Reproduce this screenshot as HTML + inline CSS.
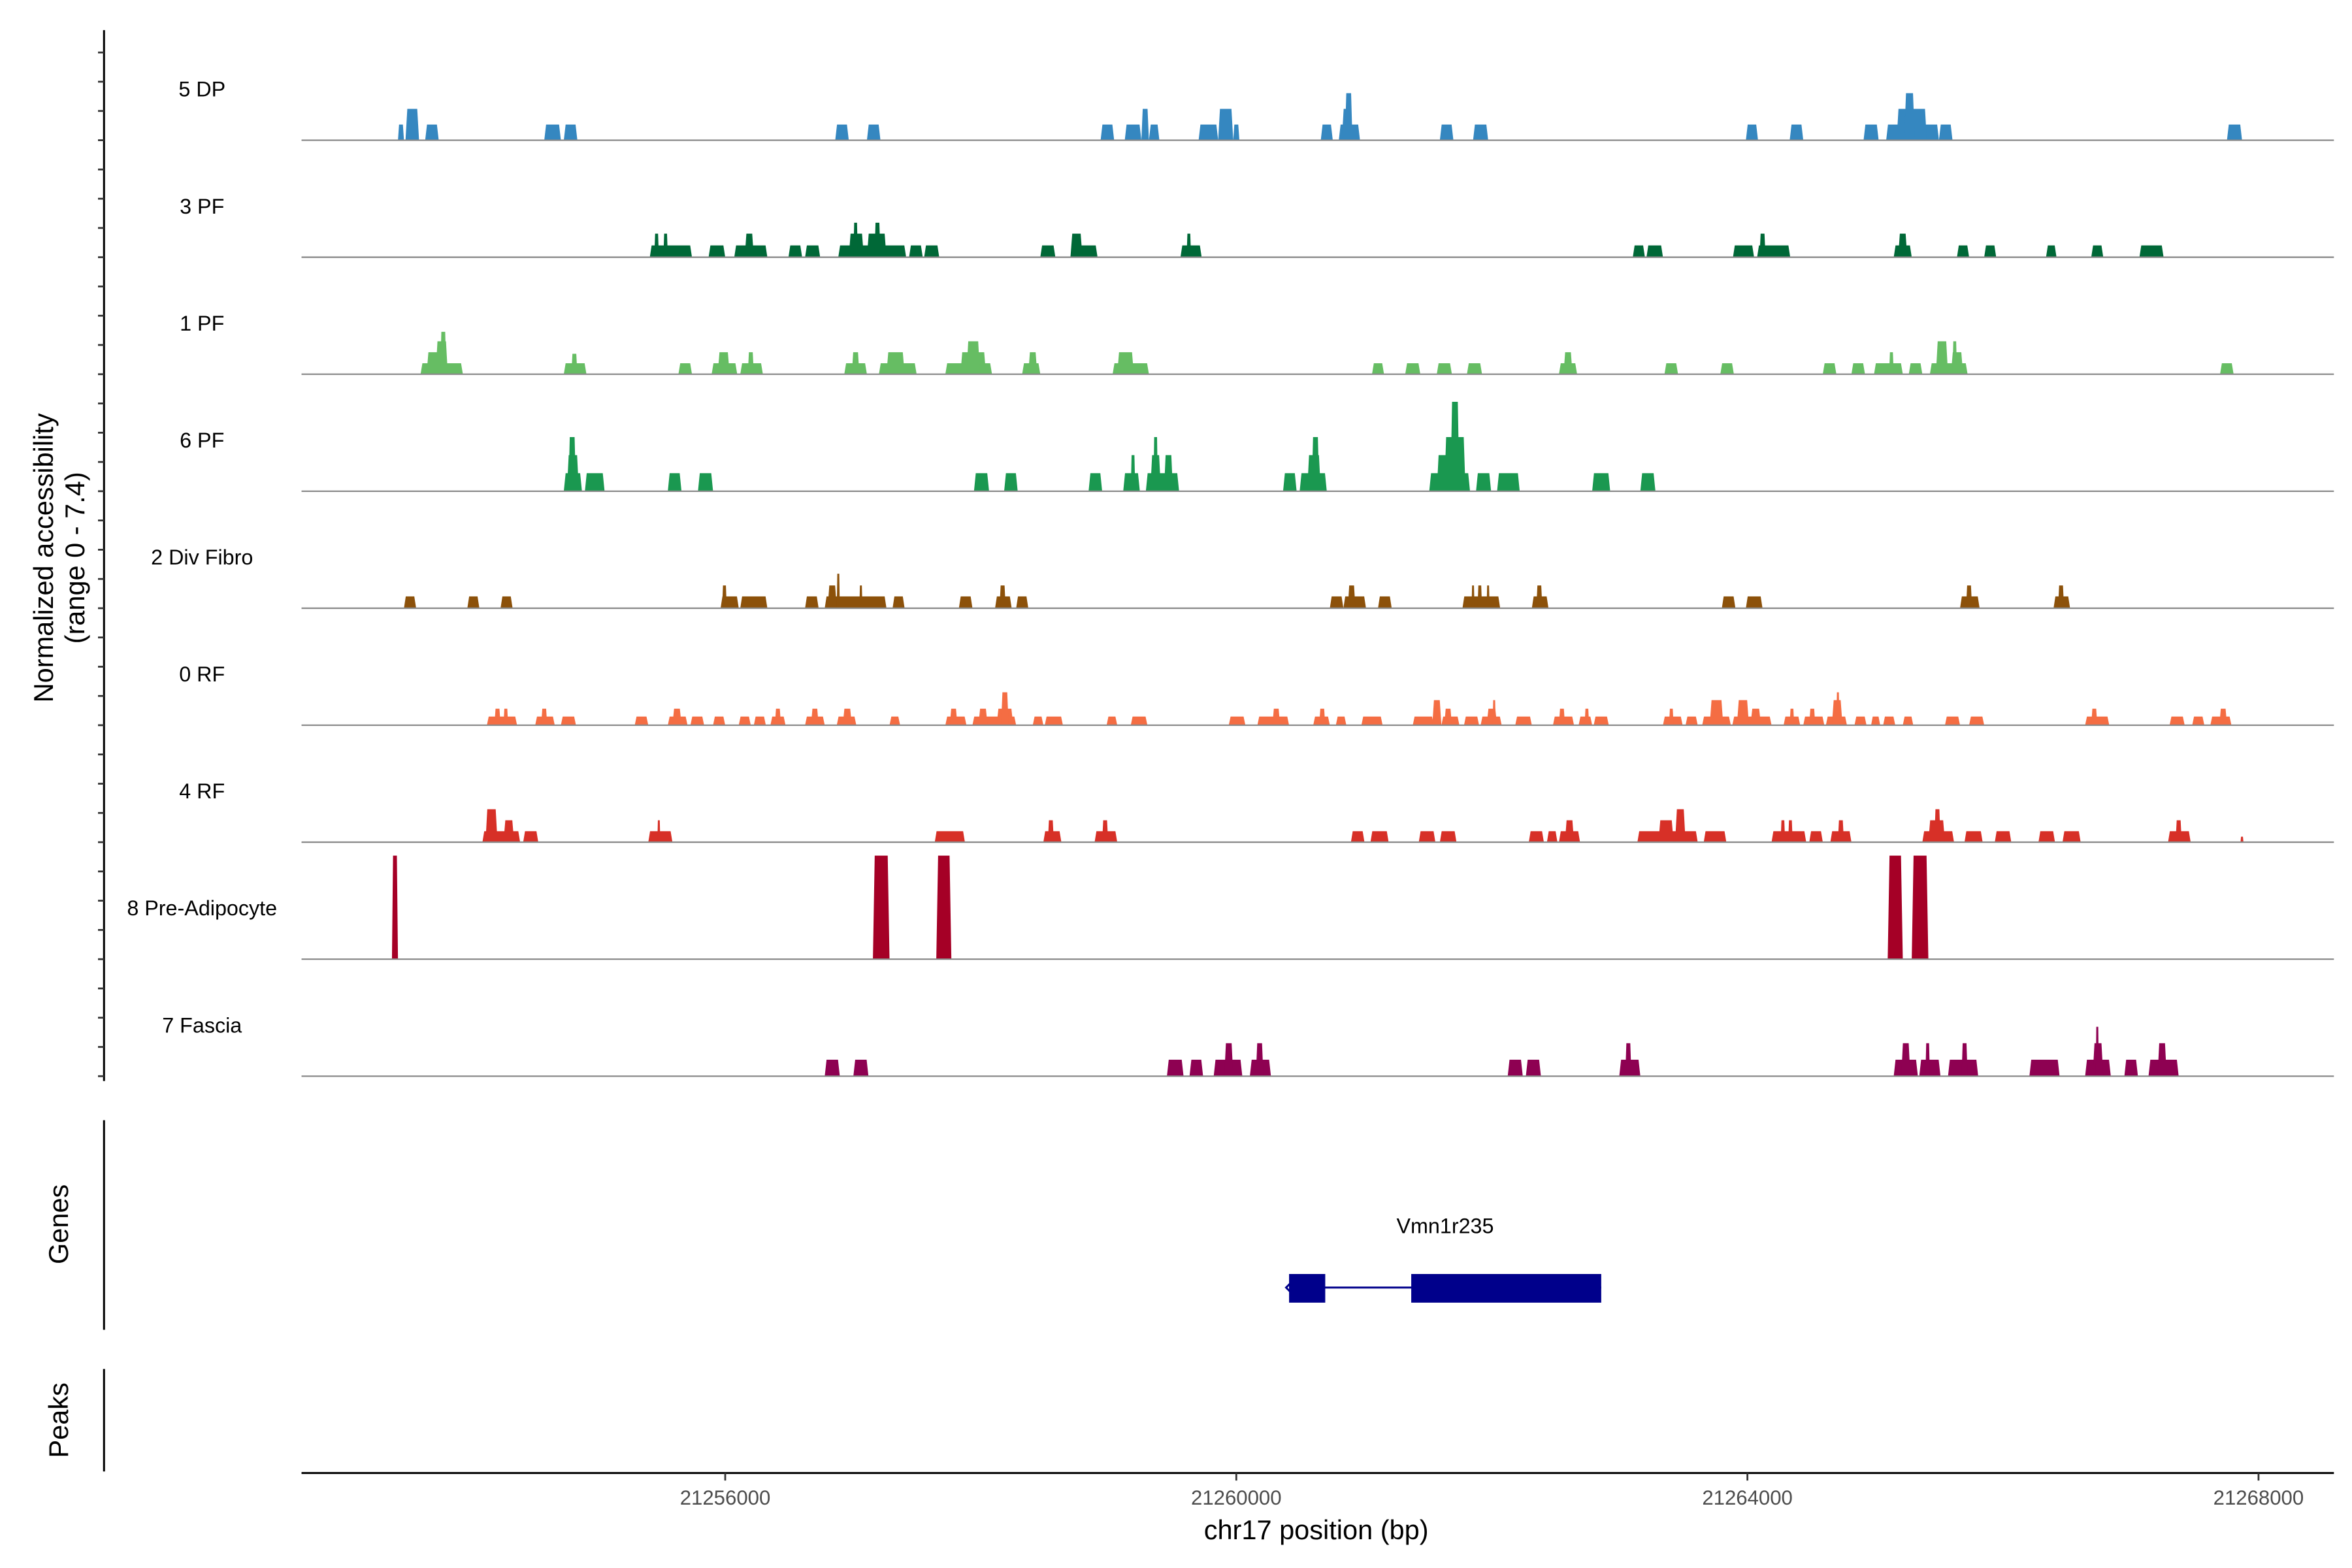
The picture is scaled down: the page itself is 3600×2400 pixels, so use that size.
<!DOCTYPE html>
<html><head><meta charset="utf-8"><style>
html,body{margin:0;padding:0;background:#fff;}
svg{display:block;}
text{font-family:"Liberation Sans",Arial,sans-serif;}
</style></head><body>
<svg id="chart" xmlns="http://www.w3.org/2000/svg" width="3600" height="2400" viewBox="0 0 1560 1040">
<g id="tracks"></g>
<g id="yaxis"></g>
<text transform="translate(35,370) rotate(-90)" text-anchor="middle" font-size="18" fill="#000">Normalized accessibility</text>
<text transform="translate(56,370) rotate(-90)" text-anchor="middle" font-size="18" fill="#000">(range 0 - 7.4)</text>
<line x1="69" y1="743" x2="69" y2="882" stroke="#000" stroke-width="1.3"/>
<text transform="translate(45,812) rotate(-90)" text-anchor="middle" font-size="18" fill="#000">Genes</text>
<line x1="69" y1="908" x2="69" y2="976" stroke="#000" stroke-width="1.3"/>
<text transform="translate(45,942) rotate(-90)" text-anchor="middle" font-size="18" fill="#000">Peaks</text>
<g id="gene"></g>
<g id="xaxis"></g>
<text x="873" y="1021" text-anchor="middle" font-size="18" fill="#000">chr17 position (bp)</text>
</svg>
<script>
// positions in kb relative to chr17:21,250,000 ; heights in normalized accessibility
const trackNames = ["5 DP","3 PF","1 PF","6 PF","2 Div Fibro","0 RF","4 RF","8 Pre-Adipocyte","7 Fascia"];
const trackColors = ["#3587c0","#006837","#66bd63","#1a9850","#8c510a","#f46d43","#d73027","#a50026","#8e0152"];
const peaks5DP = [[3.439,3.486,1],[3.498,3.604,2],[3.652,3.758,1],[4.584,4.714,1],[4.737,4.843,1],[6.861,6.967,1],[7.109,7.215,1],[8.938,9.044,1],[9.127,9.257,1],[9.257,9.316,2],[9.316,9.398,1],[9.705,9.858,1],[9.858,9.976,2],[9.976,10.024,1],[10.661,10.755,1],[10.802,10.968,1],[10.826,10.909,2],[10.85,10.909,3],[11.593,11.699,1],[11.853,11.971,1],[13.988,14.083,1],[14.331,14.437,1],[14.909,15.027,1],[15.086,15.499,1],[15.168,15.404,2],[15.227,15.31,3],[15.499,15.605,1],[17.753,17.871,1]];
const peaks3PF = [[5.41,5.74,0.75],[5.445,5.481,1.5],[5.516,5.551,1.5],[5.87,6.0,0.75],[6.071,6.33,0.75],[6.153,6.224,1.5],[6.495,6.602,0.75],[6.625,6.743,0.75],[6.885,7.416,0.75],[6.967,7.085,1.5],[7.109,7.262,1.5],[7.003,7.038,2.2],[7.168,7.215,2.2],[7.439,7.546,0.75],[7.557,7.675,0.75],[8.466,8.584,0.75],[8.702,8.914,0.75],[8.702,8.796,1.5],[9.563,9.729,0.75],[9.611,9.646,1.5],[13.103,13.198,0.75],[13.21,13.339,0.75],[13.887,14.052,0.75],[14.076,14.335,0.75],[14.095,14.142,1.5],[15.145,15.286,0.75],[15.18,15.251,1.5],[15.64,15.735,0.75],[15.853,15.947,0.75],[16.337,16.419,0.75],[16.691,16.785,0.75],[17.068,17.257,0.75]];
const peaks1PF = [[3.616,3.947,0.7],[3.663,3.829,1.4],[3.734,3.829,2.1],[3.77,3.817,2.7],[4.737,4.914,0.7],[4.796,4.843,1.3],[5.634,5.74,0.7],[5.894,6.094,0.7],[5.941,6.035,1.4],[6.118,6.295,0.7],[6.177,6.224,1.4],[6.932,7.109,0.7],[6.991,7.05,1.4],[7.203,7.498,0.7],[7.262,7.404,1.4],[7.723,8.088,0.7],[7.841,8.041,1.4],[7.888,7.994,2.1],[8.324,8.466,0.7],[8.372,8.442,1.4],[9.032,9.316,0.7],[9.068,9.198,1.4],[11.062,11.156,0.7],[11.322,11.44,0.7],[11.569,11.687,0.7],[11.805,11.923,0.7],[12.525,12.667,0.7],[12.561,12.631,1.4],[13.351,13.457,0.7],[13.788,13.894,0.7],[14.59,14.696,0.7],[14.814,14.92,0.7],[14.991,15.216,0.7],[15.109,15.145,1.4],[15.263,15.369,0.7],[15.428,15.723,0.7],[15.475,15.57,2.1],[15.593,15.688,1.4],[15.605,15.64,2.1],[17.699,17.805,0.7]];
const peaks6PF = [[4.737,4.879,1.15],[4.761,4.855,2.3],[4.773,4.832,3.45],[4.902,5.056,1.15],[5.551,5.658,1.15],[5.787,5.905,1.15],[7.947,8.065,1.15],[8.183,8.289,1.15],[8.844,8.95,1.15],[9.115,9.245,1.15],[9.174,9.209,2.3],[9.292,9.552,1.15],[9.327,9.41,2.3],[9.351,9.386,3.45],[9.434,9.504,2.3],[10.366,10.472,1.15],[10.496,10.708,1.15],[10.555,10.661,2.3],[10.59,10.649,3.45],[11.51,11.829,1.15],[11.569,11.794,2.3],[11.628,11.794,3.45],[11.676,11.746,5.7],[11.876,11.994,1.15],[12.041,12.218,1.15],[12.785,12.926,1.15],[13.162,13.28,1.15]];
const peaks2DF = [[3.486,3.581,0.75],[3.982,4.076,0.75],[4.242,4.336,0.75],[5.964,6.106,0.75],[5.976,6.012,1.45],[6.118,6.33,0.75],[6.625,6.731,0.75],[6.779,7.262,0.75],[6.802,6.873,1.45],[6.873,6.897,2.2],[7.05,7.074,1.45],[7.31,7.404,0.75],[7.829,7.935,0.75],[8.112,8.242,0.75],[8.147,8.195,1.45],[8.277,8.372,0.75],[10.732,10.838,0.75],[10.838,11.015,0.75],[10.873,10.932,1.45],[11.109,11.216,0.75],[11.77,12.065,0.75],[11.841,11.864,1.45],[11.888,11.923,1.45],[11.959,11.982,1.45],[12.313,12.443,0.75],[12.348,12.395,1.45],[13.8,13.906,0.75],[13.988,14.118,0.75],[15.664,15.817,0.75],[15.711,15.758,1.45],[16.396,16.525,0.75],[16.431,16.478,1.45]];
const peaks0RF = [[4.135,4.371,0.55],[4.194,4.242,1.05],[4.265,4.301,1.05],[4.513,4.666,0.55],[4.56,4.607,1.05],[4.714,4.832,0.55],[5.292,5.398,0.55],[5.551,5.705,0.55],[5.587,5.658,1.05],[5.728,5.835,0.55],[5.905,6.0,0.55],[6.106,6.2,0.55],[6.224,6.318,0.55],[6.354,6.472,0.55],[6.389,6.436,1.05],[6.625,6.779,0.55],[6.672,6.731,1.05],[6.873,7.026,0.55],[6.92,6.991,1.05],[7.286,7.369,0.55],[7.723,7.888,0.55],[7.758,7.817,1.05],[7.935,8.277,0.55],[7.982,8.053,1.05],[8.124,8.254,1.05],[8.159,8.218,2.1],[8.407,8.49,0.55],[8.501,8.643,0.55],[8.985,9.068,0.55],[9.174,9.304,0.55],[9.941,10.071,0.55],[10.165,10.413,0.55],[10.283,10.342,1.05],[10.602,10.732,0.55],[10.649,10.696,1.05],[10.779,10.861,0.55],[10.979,11.145,0.55],[11.381,11.546,0.55],[11.534,11.605,1.6],[11.605,11.746,0.55],[11.628,11.687,1.05],[11.782,11.9,0.55],[11.912,12.077,0.55],[11.959,12.041,1.05],[12.006,12.03,1.6],[12.183,12.313,0.55],[12.478,12.643,0.55],[12.525,12.572,1.05],[12.679,12.785,0.55],[12.726,12.761,1.05],[12.797,12.915,0.55],[13.339,13.493,0.55],[13.387,13.422,1.05],[13.516,13.611,0.55],[13.646,13.87,0.55],[13.705,13.811,1.6],[13.882,14.189,0.55],[13.918,14.012,1.6],[14.024,14.106,1.05],[14.283,14.413,0.55],[14.331,14.366,1.05],[14.437,14.602,0.55],[14.484,14.531,1.05],[14.614,14.779,0.55],[14.661,14.744,1.6],[14.696,14.72,2.1],[14.838,14.932,0.55],[14.968,15.039,0.55],[15.062,15.157,0.55],[15.216,15.298,0.55],[15.546,15.664,0.55],[15.735,15.853,0.55],[16.643,16.832,0.55],[16.691,16.738,1.05],[17.304,17.422,0.55],[17.481,17.576,0.55],[17.623,17.788,0.55],[17.694,17.753,1.05]];
const peaks4RF = [[4.1,4.395,0.7],[4.124,4.218,2.1],[4.265,4.348,1.4],[4.419,4.537,0.7],[5.398,5.587,0.7],[5.469,5.492,1.4],[7.64,7.876,0.7],[8.49,8.631,0.7],[8.525,8.572,1.4],[8.891,9.068,0.7],[8.95,8.997,1.4],[10.897,11.003,0.7],[11.05,11.192,0.7],[11.428,11.558,0.7],[11.593,11.723,0.7],[12.289,12.407,0.7],[12.431,12.513,0.7],[12.525,12.69,0.7],[12.572,12.643,1.4],[13.139,13.611,0.7],[13.304,13.422,1.4],[13.434,13.516,2.1],[13.658,13.835,0.7],[14.189,14.46,0.7],[14.26,14.295,1.4],[14.319,14.354,1.4],[14.484,14.59,0.7],[14.649,14.814,0.7],[14.708,14.755,1.4],[15.369,15.617,0.7],[15.416,15.546,1.4],[15.463,15.511,2.1],[15.699,15.841,0.7],[15.936,16.065,0.7],[16.278,16.407,0.7],[16.466,16.608,0.7],[17.292,17.469,0.7],[17.351,17.399,1.4],[17.859,17.882,0.35]];
const peaks8PA = [[3.392,3.439,6.6],[7.156,7.286,6.6],[7.652,7.77,6.6],[15.098,15.216,6.6],[15.286,15.416,6.6]];
const peaks7F = [[6.779,6.897,1.05],[7.003,7.121,1.05],[9.457,9.587,1.05],[9.634,9.74,1.05],[9.823,10.047,1.05],[9.906,9.976,2.1],[10.106,10.271,1.05],[10.153,10.212,2.1],[12.124,12.242,1.05],[12.266,12.384,1.05],[12.997,13.162,1.05],[13.044,13.092,2.1],[15.145,15.334,1.05],[15.204,15.275,2.1],[15.345,15.511,1.05],[15.393,15.428,2.1],[15.57,15.806,1.05],[15.676,15.723,2.1],[16.207,16.443,1.05],[16.643,16.844,1.05],[16.702,16.785,2.1],[16.726,16.75,3.15],[16.95,17.056,1.05],[17.139,17.375,1.05],[17.21,17.281,2.1]];
const xTickValues = [21256000,21260000,21264000,21268000];
const xTickLabels = ["21256000","21260000","21264000","21268000"];
const geneName = "Vmn1r235";
const geneSpan = [10.413,12.856];
const geneExons = [[10.413,10.696],[11.369,12.856]];

const allPeaks = [peaks5DP,peaks3PF,peaks1PF,peaks6PF,peaks2DF,peaks0RF,peaks4RF,peaks8PA,peaks7F];
const NS = "http://www.w3.org/2000/svg";
const X0 = 481, PXKB = 84.75;
function xScale(kb){ return X0 + (kb - 6) * PXKB; }
function xScaleBp(bp){ return xScale((bp - 21250000) / 1000); }
const firstBase = 93, trackStep = 77.6, yMax = 7.4, trackH = 77;
function yScale(v, base){ return base - v / yMax * trackH; }
function mk(tag, attrs, parent){ const e = document.createElementNS(NS, tag); for (const k in attrs) e.setAttribute(k, attrs[k]); parent.appendChild(e); return e; }

const tg = document.getElementById('tracks');
allPeaks.forEach((peaks, i) => {
  const base = firstBase + i * trackStep;
  const g = mk('g', {}, tg);
  
  
  const lbl = mk('text', {x: 134, y: base - 29, 'text-anchor': 'middle', 'font-size': 14, fill: '#000'}, g);
  lbl.textContent = trackNames[i];
  
  
  peaks.forEach(p => {
    const x1 = xScale(p[0]), x2 = xScale(p[1]), yt = yScale(p[2], base);
    const t = Math.min(1.2, (x2 - x1) * 0.18);
    const poly = mk('polygon', {points: `${x1},${base} ${x1 + t},${yt} ${x2 - t},${yt} ${x2},${base}`, fill: trackColors[i]}, g);
    
    
  });
  const bl = mk('line', {x1: 200, y1: base, x2: 1548, y2: base, stroke: '#8a8a8a', 'stroke-width': 1}, g);
  
  
});

const ya = document.getElementById('yaxis');
const yl = mk('line', {x1: 69, y1: 20, x2: 69, y2: 717, stroke: '#000', 'stroke-width': 1.3}, ya);


for (let i = 0; i < 9; i++) {
  const base = firstBase + i * trackStep;
  for (let k = 0; k < 4; k++) {
    const y = base - k * trackStep / 4;
    const tk = mk('line', {x1: 65, y1: y, x2: 69, y2: y, stroke: '#333', 'stroke-width': 1.2}, ya);
    
    
  }
}

const gg = document.getElementById('gene');
const gt = mk('text', {x: (xScale(geneSpan[0]) + xScale(geneSpan[1])) / 2, y: 818, 'text-anchor': 'middle', 'font-size': 14, fill: '#000'}, gg);
gt.textContent = geneName;


const intr = mk('line', {x1: xScale(geneSpan[0]), y1: 854, x2: xScale(geneSpan[1]), y2: 854, stroke: '#00008b', 'stroke-width': 1.3}, gg);


const arr = mk('path', {d: `M${xScale(geneSpan[0]) + 2},850 L${xScale(geneSpan[0]) - 2},854 L${xScale(geneSpan[0]) + 2},858`, stroke: '#00008b', fill: 'none', 'stroke-width': 1.3}, gg);


geneExons.forEach(e => {
  const r = mk('rect', {x: xScale(e[0]), y: 845, width: xScale(e[1]) - xScale(e[0]), height: 19, fill: '#00008b'}, gg);
  
  
});

const xa = document.getElementById('xaxis');
const xl = mk('line', {x1: 200, y1: 977, x2: 1548, y2: 977, stroke: '#000', 'stroke-width': 1.3}, xa);


xTickValues.forEach((v, i) => {
  const x = xScaleBp(v);
  const tk = mk('line', {x1: x, y1: 977, x2: x, y2: 982, stroke: '#333', 'stroke-width': 1.2}, xa);
  
  
  const tl = mk('text', {x: x, y: 998, 'text-anchor': 'middle', 'font-size': 13.5, fill: '#4d4d4d'}, xa);
  tl.textContent = xTickLabels[i];
  
  
});
</script>
</body></html>
